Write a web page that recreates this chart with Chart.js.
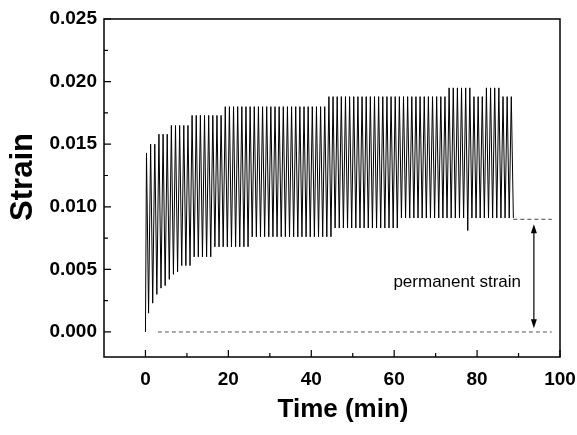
<!DOCTYPE html>
<html>
<head>
<meta charset="utf-8">
<script src="https://cdn.jsdelivr.net/npm/chart.js@4.4.1/dist/chart.umd.min.js"></script>
<style>
  html, body { margin: 0; padding: 0; background: #fff; }
  #wrap { width: 577px; height: 435px; }
</style>
</head>
<body>
<div id="wrap"><canvas id="chart" width="577" height="435"></canvas></div>
<script>
// cyclic creep test: one load/unload cycle per minute
const cyclePeriod = 1;
const peakStrain = [
  0.0143,
  0.0150, 0.0150,
  0.0158, 0.0158, 0.0158,
  0.0165, 0.0165, 0.0165, 0.0165, 0.0165,
  0.0173, 0.0173, 0.0173, 0.0173, 0.0173, 0.0173, 0.0173, 0.0173,
  0.0180, 0.0180, 0.0180, 0.0180, 0.0180, 0.0180, 0.0180, 0.0180, 0.0180, 0.0180,
  0.0180, 0.0180, 0.0180, 0.0180, 0.0180, 0.0180, 0.0180, 0.0180, 0.0180, 0.0180,
  0.0180, 0.0180, 0.0180, 0.0180, 0.0180,
  0.0188, 0.0188, 0.0188, 0.0188, 0.0188, 0.0188, 0.0188, 0.0188, 0.0188, 0.0188,
  0.0188, 0.0188, 0.0188, 0.0188, 0.0188, 0.0188, 0.0188, 0.0188, 0.0188, 0.0188,
  0.0188, 0.0188, 0.0188, 0.0188, 0.0188, 0.0188, 0.0188, 0.0188, 0.0188,
  0.0195, 0.0195, 0.0195, 0.0195, 0.0195, 0.0195,
  0.0188, 0.0188, 0.0188,
  0.0195, 0.0195, 0.0195, 0.0195,
  0.0188, 0.0188, 0.0188
];
const troughStrain = [
  0.0015, 0.0023, 0.0030, 0.0035, 0.0037, 0.0042, 0.0046, 0.0048,
  0.0053, 0.0053, 0.0053,
  0.0060, 0.0060, 0.0060, 0.0060, 0.0060,
  0.0068, 0.0068, 0.0068, 0.0068, 0.0068, 0.0068, 0.0068, 0.0068, 0.0068,
  0.0076, 0.0076, 0.0076, 0.0076, 0.0076, 0.0076, 0.0076, 0.0076, 0.0076, 0.0076,
  0.0076, 0.0076, 0.0076, 0.0076, 0.0076, 0.0076, 0.0076, 0.0076, 0.0076, 0.0076,
  0.0083, 0.0083, 0.0083, 0.0083, 0.0083, 0.0083, 0.0083, 0.0083,
  0.0083, 0.0083, 0.0083, 0.0083, 0.0083, 0.0083, 0.0083, 0.0083,
  0.0091, 0.0091, 0.0091, 0.0091, 0.0091, 0.0091, 0.0091, 0.0091, 0.0091, 0.0091,
  0.0091, 0.0091, 0.0091, 0.0091, 0.0091, 0.0091, 0.0081, 0.0091, 0.0091, 0.0091,
  0.0091, 0.0091, 0.0091, 0.0091, 0.0091, 0.0091, 0.0091, 0.0091
];

const xTicks = [0, 20, 40, 60, 80, 100];
const xMinorTicks = [10, 30, 50, 70, 90];
const yTicks = [0, 0.005, 0.010, 0.015, 0.020, 0.025];
const yMinorTicks = [0.0025, 0.0075, 0.0125, 0.0175, 0.0225];

// annotation values
const permanentLevel = 0.009;
const permanentLine = [88.75, 98];
const zeroLine = [3, 98];
const arrowTime = 93.7;
const arrowRange = [0.0003, 0.0086];
const noteText = 'permanent strain';
const notePos = [75.2, 0.0040];
const xTitle = 'Time (min)';
const yTitle = 'Strain';

// build the zig-zag trace from the peak / trough lists
const trace = [{ x: 0, y: 0 }];
peakStrain.forEach((p, k) => {
  trace.push({ x: k * cyclePeriod + 0.25, y: p });
  trace.push({ x: k * cyclePeriod + 0.75, y: troughStrain[k] });
});

const FONT = '"Liberation Sans", Arial, sans-serif';

const framePlugin = {
  id: 'frame',
  afterDraw(chart) {
    const { ctx, chartArea: a, scales: { x, y } } = chart;
    ctx.save();
    ctx.strokeStyle = '#000';
    ctx.lineWidth = 1.5;
    ctx.strokeRect(a.left, a.top, a.right - a.left, a.bottom - a.top);

    // inward ticks
    ctx.lineWidth = 1.2;
    ctx.beginPath();
    xTicks.forEach(v => {
      const px = x.getPixelForValue(v);
      ctx.moveTo(px, a.bottom); ctx.lineTo(px, a.bottom - 7);
    });
    xMinorTicks.forEach(v => {
      const px = x.getPixelForValue(v);
      ctx.moveTo(px, a.bottom); ctx.lineTo(px, a.bottom - 4);
    });
    yTicks.forEach(v => {
      const py = y.getPixelForValue(v);
      ctx.moveTo(a.left, py); ctx.lineTo(a.left + 7, py);
    });
    yMinorTicks.forEach(v => {
      const py = y.getPixelForValue(v);
      ctx.moveTo(a.left, py); ctx.lineTo(a.left + 4, py);
    });
    ctx.stroke();

    // double arrow
    const ax = x.getPixelForValue(arrowTime);
    const y0 = y.getPixelForValue(arrowRange[0]);
    const y1 = y.getPixelForValue(arrowRange[1]);
    ctx.lineWidth = 1.2;
    ctx.beginPath();
    ctx.moveTo(ax, y1 + 4); ctx.lineTo(ax, y0 - 4);
    ctx.stroke();
    ctx.fillStyle = '#000';
    ctx.beginPath();
    ctx.moveTo(ax, y1); ctx.lineTo(ax - 3, y1 + 9); ctx.lineTo(ax + 3, y1 + 9); ctx.closePath();
    ctx.moveTo(ax, y0); ctx.lineTo(ax - 3, y0 - 9); ctx.lineTo(ax + 3, y0 - 9); ctx.closePath();
    ctx.fill();

    // note
    ctx.font = '17px ' + FONT;
    ctx.textAlign = 'center';
    ctx.textBaseline = 'middle';
    ctx.fillText(noteText, x.getPixelForValue(notePos[0]), y.getPixelForValue(notePos[1]));

    // axis titles (sit slightly right / above the plot centre, as in the source figure)
    ctx.font = 'bold 26px ' + FONT;
    ctx.fillText(xTitle, 343, 410);
    ctx.translate(23, 177);
    ctx.rotate(-Math.PI / 2);
    ctx.font = 'bold 31px ' + FONT;
    ctx.fillText(yTitle, 0, 0);
    ctx.restore();
  }
};

new Chart(document.getElementById('chart'), {
  type: 'line',
  data: {
    datasets: [
      {
        data: trace,
        borderColor: '#000',
        borderWidth: 1,
        pointRadius: 0,
        tension: 0
      },
      {
        data: permanentLine.map(t => ({ x: t, y: permanentLevel })),
        borderColor: '#444',
        borderWidth: 1,
        borderDash: [4, 3],
        pointRadius: 0
      },
      {
        data: zeroLine.map(t => ({ x: t, y: 0 })),
        borderColor: '#555',
        borderWidth: 1,
        borderDash: [4, 3],
        pointRadius: 0
      }
    ]
  },
  options: {
    responsive: false,
    animation: false,
    events: [],
    layout: { padding: { top: 19, right: 17, left: 0, bottom: 0 } },
    plugins: { legend: { display: false }, tooltip: { enabled: false } },
    scales: {
      x: {
        type: 'linear',
        min: -10,
        max: 100,
        afterBuildTicks: s => { s.ticks = xTicks.map(v => ({ value: v })); },
        afterFit: s => { s.height = 78; s.paddingLeft = 0; s.paddingRight = 0; },
        grid: { display: false, drawTicks: false },
        border: { display: false },
        ticks: {
          color: '#000',
          padding: 11,
          maxRotation: 0,
          font: { family: FONT, size: 19, weight: 'bold' }
        }
      },
      y: {
        type: 'linear',
        min: -0.002,
        max: 0.025,
        afterBuildTicks: s => { s.ticks = yTicks.map(v => ({ value: v })); },
        afterFit: s => { s.width = 104; s.paddingTop = 0; s.paddingBottom = 0; },
        grid: { display: false, drawTicks: false },
        border: { display: false },
        ticks: {
          color: '#000',
          padding: 7,
          callback: v => v.toFixed(3),
          font: { family: FONT, size: 19, weight: 'bold' }
        }
      }
    }
  },
  plugins: [framePlugin]
});
</script>
</body>
</html>
